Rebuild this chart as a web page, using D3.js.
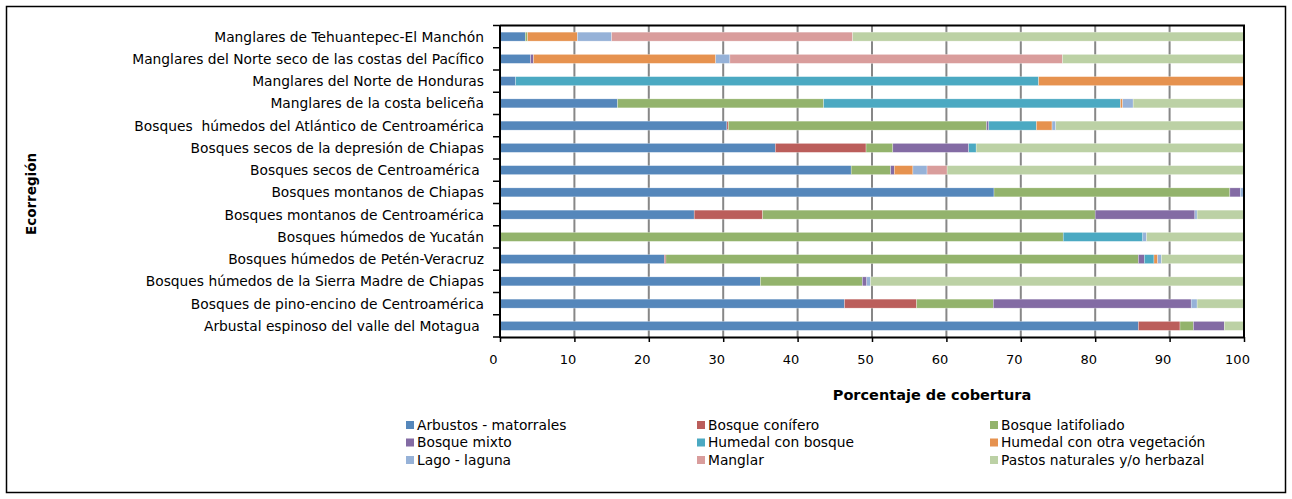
<!DOCTYPE html>
<html>
<head>
<meta charset="utf-8">
<script src="https://cdn.jsdelivr.net/npm/d3@7"></script>
<style>
  html, body { margin: 0; padding: 0; background: #fff; }
  svg { display: block; }
  text { font-family: "DejaVu Sans", Verdana, sans-serif; fill: #000; }
</style>
</head>
<body>
<svg id="chart" width="1292" height="499"></svg>
<script>
// Categories, top to bottom
const categories = [
  "Manglares de Tehuantepec-El Manchón",
  "Manglares del Norte seco de las costas del Pacífico",
  "Manglares del Norte de Honduras",
  "Manglares de la costa beliceña",
  "Bosques  húmedos del Atlántico de Centroamérica",
  "Bosques secos de la depresión de Chiapas",
  "Bosques secos de Centroamérica ",
  "Bosques montanos de Chiapas",
  "Bosques montanos de Centroamérica",
  "Bosques húmedos de Yucatán",
  "Bosques húmedos de Petén-Veracruz",
  "Bosques húmedos de la Sierra Madre de Chiapas",
  "Bosques de pino-encino de Centroamérica",
  "Arbustal espinoso del valle del Motagua "
];

const seriesNames = [
  "Arbustos - matorrales", "Bosque conífero", "Bosque latifoliado",
  "Bosque mixto", "Humedal con bosque", "Humedal con otra vegetación",
  "Lago - laguna", "Manglar", "Pastos naturales y/o herbazal"
];

// Series values (percent), one per category in the order above
const arbustos      = [3.4, 4.1, 2.1, 15.8, 30.5, 37.0, 47.2, 66.4, 26.1, 0,    22.1, 35.0, 46.3, 85.8];
const conifero      = [0,   0,   0,   0,    0.2,  12.2, 0,    0,    9.2,  0,    0.2,  0,    9.7,  5.6];
const latifoliado   = [0.3, 0,   0,   27.7, 34.7, 3.6,  5.3,  31.7, 44.7, 75.7, 63.5, 13.7, 10.3, 1.8];
const mixto         = [0,   0.4, 0,   0,    0.3,  10.2, 0.5,  1.4,  13.4, 0,    0.8,  0.6,  26.6, 4.15];
const humedalBosque = [0,   0,   70.3,39.9, 6.4,  1.0,  0,    0,    0,    10.7, 1.3,  0,    0,    0];
const humedalOtra   = [6.7, 24.5,27.6,0.3,  2.1,  0,    2.5,  0,    0,    0,    0.5,  0,    0,    0];
const lago          = [4.6, 1.9, 0,   1.4,  0.5,  0,    1.9,  0.5,  0.3,  0.5,  0.5,  0.5,  0.8,  0];
const manglar       = [32.4,44.7,0,   0,    0,    0,    2.7,  0,    0,    0,    0,    0,    0,    0];
const pastos        = [52.6,24.4,0,   14.9, 25.3, 36.0, 39.9, 0,    6.3,  13.1, 11.1, 50.2, 6.3,  2.65];

const seriesValues = [arbustos, conifero, latifoliado, mixto, humedalBosque, humedalOtra, lago, manglar, pastos];
const xTicks = [0, 10, 20, 30, 40, 50, 60, 70, 80, 90, 100];

const colors = ["#5587BB", "#BB5E5B", "#93B36C", "#836BA4", "#4BA9C2", "#E6924F", "#96B2D8", "#D99D9C", "#BCD1A5"];

// Build table for stacking
const table = categories.map((c, i) => {
  const row = { cat: c };
  seriesNames.forEach((s, j) => row[s] = seriesValues[j][i]);
  return row;
});

const svg = d3.select("#chart");

// outer border
svg.append("rect").attr("x", 6.5).attr("y", 6.5).attr("width", 1279).attr("height", 486)
  .attr("fill", "#fff").attr("stroke", "#000").attr("stroke-width", 1.5);

const pLeft = 500, pRight = 1244, pTop = 25.5, pBottom = 337;
const x = d3.scaleLinear().domain([0, 100]).range([pLeft, pRight]);
const yb = d3.scaleBand().domain(categories).range([pTop, pBottom]);

// gridlines
svg.append("g").selectAll("line").data(xTicks.slice(1, -1)).join("line")
  .attr("x1", d => x(d)).attr("x2", d => x(d)).attr("y1", pTop).attr("y2", pBottom)
  .attr("stroke", "#878787").attr("stroke-width", 2);

// stacked bars
const stack = d3.stack().keys(seriesNames);
const stacked = stack(table);
svg.append("g").selectAll("g").data(stacked).join("g")
  .attr("fill", (d, i) => colors[i])
  .selectAll("rect").data(d => d.filter(p => p[1] - p[0] > 0)).join("rect")
  .attr("x", d => x(d[0]))
  .attr("width", d => x(d[1]) - x(d[0]))
  .attr("y", d => yb(d.data.cat) + yb.bandwidth() / 2 - 4.5)
  .attr("height", 9)
  .attr("stroke", "rgba(255,255,255,0.6)").attr("stroke-width", 0.5);

// plot frame: top & right
svg.append("path")
  .attr("d", `M${pLeft},${pTop}H${pRight}V${pBottom}`)
  .attr("fill", "none").attr("stroke", "#000").attr("stroke-width", 2);

// x axis
const xAxis = svg.append("g").attr("transform", `translate(0,${pBottom})`)
  .call(d3.axisBottom(x).tickValues(xTicks).tickSize(5).tickSizeOuter(0).tickPadding(13));
xAxis.select(".domain").attr("stroke", "#000").attr("stroke-width", 2);
xAxis.selectAll(".tick line").attr("stroke", "#000").attr("stroke-width", 1.5);
xAxis.selectAll(".tick text").attr("font-size", "13px")
  .attr("font-family", "DejaVu Sans, sans-serif").attr("dx", "-7");

// y axis: ticks at category boundaries
svg.append("line").attr("x1", pLeft).attr("x2", pLeft).attr("y1", pTop).attr("y2", pBottom + 1)
  .attr("stroke", "#000").attr("stroke-width", 2);
const boundaries = categories.map(c => yb(c)).concat([pBottom]);
svg.append("g").selectAll("line").data(boundaries).join("line")
  .attr("x1", pLeft - 7).attr("x2", pLeft).attr("y1", d => d).attr("y2", d => d)
  .attr("stroke", "#000").attr("stroke-width", 1.5);

svg.append("g").selectAll("text").data(categories).join("text")
  .attr("x", 484).attr("y", d => yb(d) + yb.bandwidth() / 2)
  .attr("dy", "0.36em").attr("text-anchor", "end").attr("font-size", "13.8px")
  .attr("xml:space", "preserve").style("white-space", "pre")
  .text(d => d);

// axis titles
svg.append("text").attr("x", 932).attr("y", 400).attr("text-anchor", "middle")
  .attr("font-size", "14.5px").attr("font-weight", "bold").text("Porcentaje de cobertura");
svg.append("text").attr("transform", "translate(36,194) rotate(-90)")
  .attr("text-anchor", "middle").attr("font-size", "13.5px").attr("font-weight", "bold").text("Ecorregión");

// legend: 3 columns, 3 rows, row-major
const colX = [406, 697, 990];
const rowY = [425, 442.5, 460];
const leg = svg.append("g").selectAll("g").data(seriesNames).join("g")
  .attr("transform", (d, i) => `translate(${colX[i % 3]},${rowY[Math.floor(i / 3)]})`);
leg.append("rect").attr("x", 0).attr("y", -4).attr("width", 8).attr("height", 8)
  .attr("fill", (d, i) => colors[i]);
leg.append("text").attr("x", 11).attr("y", 0).attr("dy", "0.36em")
  .attr("font-size", "13.8px").text(d => d);
</script>
</body>
</html>
